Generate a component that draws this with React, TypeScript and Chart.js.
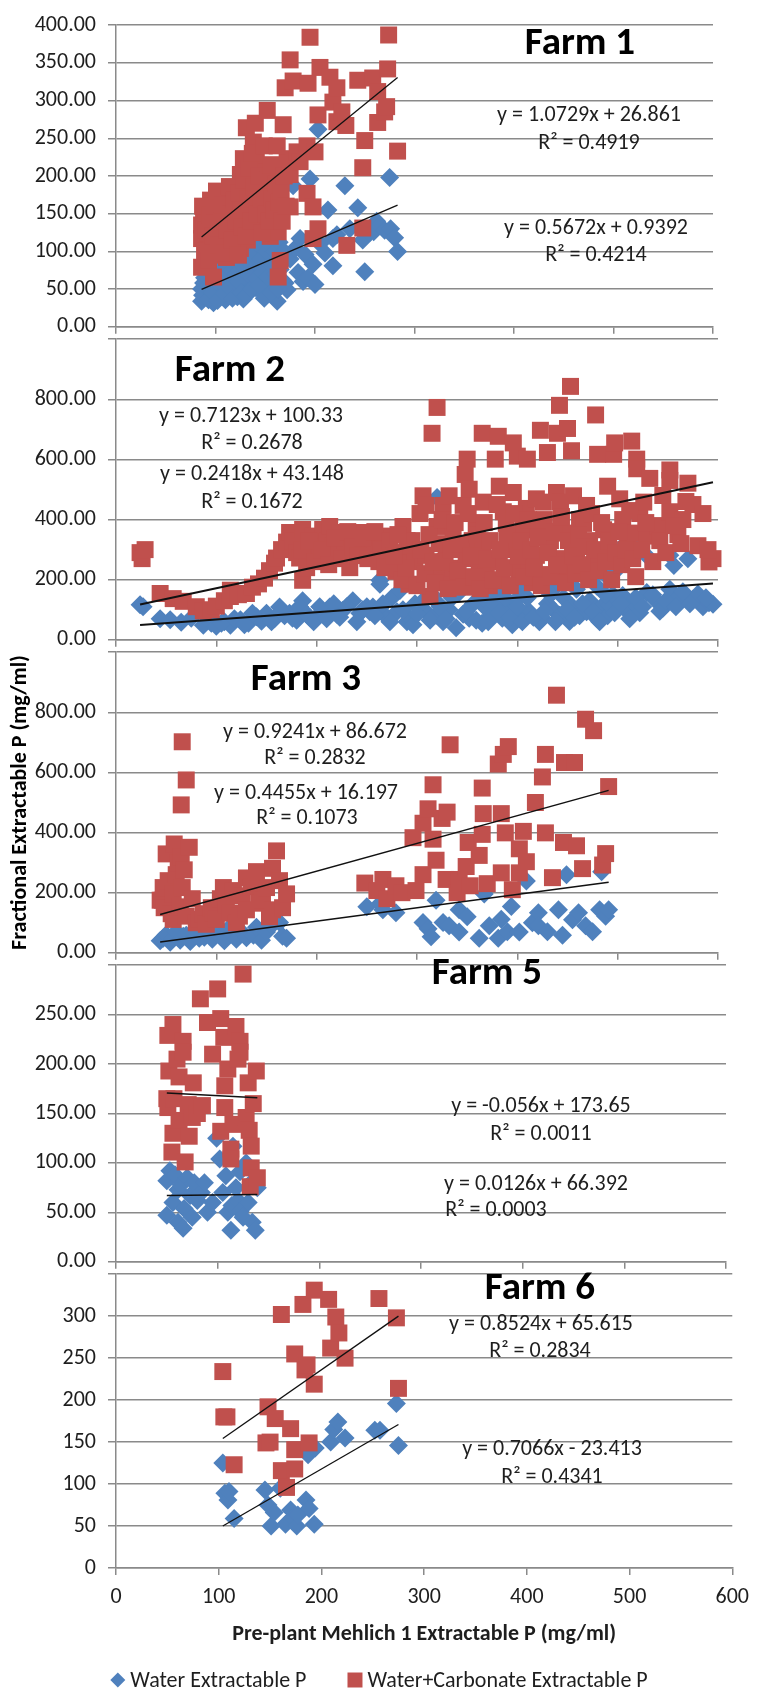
import { useEffect, useRef } from 'react';
import { Chart, registerables } from 'chart.js';

Chart.register(...registerables);

type Pt = [number, number];

const FONT = 'Carlito, Lato, "DejaVu Sans", sans-serif';
const BLUE = '#4F81BD';
const RED = '#C0504D';
const GRID = '#8A8A8A';
const INK = '#1E1E1E';
const PAGE_W = 758;
const PAGE_H = 1692;

const X_TITLE = 'Pre-plant Mehlich 1 Extractable P (mg/ml)';
const Y_TITLE = 'Fractional Extractable P (mg/ml)';
const WATER_LABEL = 'Water Extractable P';
const CARB_LABEL = 'Water+Carbonate Extractable P';

// shared x axis: Mehlich 1 P, 0..600 by 100
const xRange = [0, 600, 100];

// ---- Farm 1 ----
const farm1Water: Pt[] = [
  [86, 34], [86, 50], [88, 58], [90, 40], [92, 45], [95, 38], [98, 32], [100, 42], [103, 52], [105, 40],
  [108, 48], [110, 36], [112, 58], [115, 44], [118, 62], [120, 50], [122, 40], [125, 55], [128, 37], [130, 66],
  [133, 48], [135, 58], [138, 72], [140, 52], [143, 80], [145, 47], [148, 60], [150, 70], [152, 126], [155, 55],
  [158, 85], [160, 64], [162, 34], [165, 76], [168, 95], [170, 58], [172, 49], [175, 90], [178, 187], [180, 104],
  [183, 72], [185, 117], [188, 60], [190, 96], [193, 65], [195, 196], [198, 83], [200, 56], [203, 262], [205, 110],
  [210, 98], [213, 155], [218, 117], [218, 81], [222, 122], [230, 187], [235, 130], [243, 158], [248, 115], [250, 73],
  [255, 125], [259, 126], [262, 140], [265, 134], [270, 128], [275, 198], [276, 130], [280, 118], [283, 100],
  [87, 42], [89, 65], [91, 52], [93, 36], [94, 70], [96, 55], [97, 45], [99, 78], [101, 60], [102, 35],
  [104, 72], [106, 58], [107, 85], [109, 44], [111, 66], [113, 90], [114, 52], [116, 75], [117, 38], [119, 88],
  [121, 70], [123, 60], [124, 95], [126, 45], [127, 82], [129, 100], [131, 42], [132, 88], [134, 68], [136, 105],
  [137, 50], [139, 95], [141, 64], [142, 110], [144, 55], [146, 90], [147, 72], [149, 38], [151, 100], [153, 66],
  [154, 110], [156, 45], [157, 80], [159, 100], [161, 70], [163, 50], [164, 112], [166, 86], [167, 62], [169, 100],
];
const farm1Carbonate: Pt[] = [
  [86, 117], [86, 79], [86, 135], [88, 143], [89, 100], [90, 155], [92, 125], [95, 168], [96, 110], [98, 66],
  [100, 140], [102, 95], [105, 177], [105, 130], [108, 150], [110, 115], [111, 92], [113, 165], [115, 135], [118, 185],
  [118, 105], [120, 150], [122, 125], [125, 202], [125, 104], [128, 223], [128, 170], [130, 145], [131, 264], [132, 115],
  [135, 190], [138, 245], [140, 270], [140, 160], [141, 223], [143, 130], [145, 147], [148, 205], [150, 180], [152, 287],
  [152, 168], [155, 120], [158, 185], [160, 140], [163, 126], [165, 211], [165, 88], [163, 66], [168, 268], [170, 317],
  [172, 223], [175, 354], [175, 202], [175, 159], [178, 326], [182, 232], [185, 219], [192, 240], [192, 177], [193, 323],
  [195, 384], [198, 159], [198, 117], [200, 232], [203, 281], [203, 130], [205, 344], [215, 331], [218, 298], [222, 317],
  [222, 272], [227, 285], [231, 267], [232, 108], [243, 327], [248, 211], [248, 131], [250, 247], [258, 330], [263, 312],
  [263, 271], [270, 285], [272, 292], [273, 342], [274, 387], [283, 233],
  [87, 160], [90, 128], [93, 88], [94, 148], [97, 120], [99, 160], [101, 180], [103, 108], [106, 140], [107, 162],
  [109, 98], [112, 128], [114, 186], [116, 150], [117, 115], [119, 168], [121, 140], [123, 95], [124, 178], [126, 155],
  [127, 132], [129, 195], [131, 120], [133, 170], [134, 210], [136, 140], [137, 230], [139, 185], [142, 150], [144, 200],
  [146, 170], [147, 125], [149, 240], [151, 150], [153, 195], [154, 140], [156, 215], [157, 170], [159, 155], [161, 190],
  [162, 240], [164, 165], [166, 180], [167, 140], [169, 200], [171, 160],
];
const farm1WaterFit = [0.5672, 0.9392, 0.4214];
const farm1CarbonateFit = [1.0729, 26.861, 0.4919];

// ---- Farm 2 ----
const farm2Water: Pt[] = [
  [24, 117], [27, 110], [44, 70], [54, 67], [65, 58], [75, 72], [87, 48], [95, 55], [100, 45], [108, 60],
  [114, 48], [124, 67], [132, 55], [140, 77], [145, 62], [150, 88], [158, 70], [163, 109], [168, 80], [173, 88],
  [180, 65], [186, 98], [186, 130], [193, 75], [200, 77], [206, 95], [213, 109], [220, 85], [226, 98], [236, 130],
  [243, 88], [250, 110], [253, 93], [256, 109], [263, 198], [263, 185], [263, 104], [270, 75], [275, 140], [280, 93],
  [283, 164], [290, 60], [293, 72], [298, 120], [303, 113], [310, 90], [315, 150], [319, 82], [320, 125], [320, 473],
  [326, 60], [332, 100], [339, 40], [342, 157], [346, 85], [352, 72], [356, 120], [362, 168], [365, 55], [369, 104],
  [374, 80], [379, 157], [385, 72], [390, 110], [395, 50], [398, 130], [402, 168], [408, 85], [412, 93], [419, 189],
  [422, 60], [425, 72], [430, 120], [436, 100], [439, 179], [442, 82], [446, 140], [452, 61], [455, 110], [459, 168],
  [462, 80], [469, 93], [472, 130], [479, 72], [479, 179], [484, 110], [486, 221], [490, 80], [492, 115], [495, 150],
  [499, 232], [502, 302], [505, 147], [508, 100], [515, 125], [519, 302], [522, 90], [529, 157], [532, 270], [538, 130],
  [545, 105], [552, 168], [552, 281], [556, 247], [560, 140], [570, 270], [575, 135], [580, 152], [585, 110], [591, 123],
  [595, 118],
  [105, 55], [118, 70], [128, 50], [136, 88], [155, 60], [165, 95], [176, 72], [183, 110], [190, 85], [197, 60],
  [203, 110], [210, 70], [217, 120], [223, 75], [230, 110], [240, 60], [246, 100], [258, 80], [266, 120], [273, 60],
  [286, 100], [296, 50], [300, 85], [306, 130], [313, 65], [323, 110], [329, 70], [335, 140], [349, 95], [359, 65],
  [366, 140], [371, 60], [377, 120], [382, 90], [388, 140], [393, 75], [400, 110], [405, 60], [410, 140], [416, 75],
  [427, 95], [433, 150], [438, 60], [449, 100], [457, 75], [465, 120], [476, 95], [482, 60], [488, 150], [497, 90],
  [503, 120], [512, 70], [518, 140], [525, 110], [535, 150], [542, 95], [548, 130], [558, 110], [565, 160], [572, 120],
  [588, 140],
];
const farm2Carbonate: Pt[] = [
  [24, 290], [26, 270], [29, 300], [44, 154], [57, 137], [67, 128], [80, 110], [87, 96], [95, 100], [100, 112],
  [108, 130], [114, 144], [114, 165], [122, 150], [130, 154], [136, 175], [142, 186], [148, 205], [153, 230], [158, 255],
  [160, 272], [165, 300], [170, 325], [173, 357], [176, 330], [180, 290], [183, 272], [186, 198], [186, 367], [190, 240],
  [196, 345], [200, 310], [203, 281], [206, 367], [210, 330], [213, 377], [216, 313], [220, 290], [223, 357], [228, 330],
  [233, 240], [238, 300], [243, 357], [248, 320], [253, 323], [256, 345], [256, 302], [262, 260], [266, 345], [270, 300],
  [275, 250], [279, 228], [283, 290], [286, 377], [290, 330], [292, 185], [293, 313], [298, 260], [303, 420], [306, 479],
  [309, 281], [309, 447], [313, 144], [315, 687], [320, 773], [320, 377], [323, 230], [326, 447], [329, 302], [329, 196],
  [332, 479], [336, 355], [336, 238], [340, 200], [346, 447], [348, 550], [349, 270], [350, 601], [352, 501], [352, 185],
  [355, 330], [359, 377], [362, 240], [365, 687], [366, 458], [366, 313], [369, 217], [372, 180], [378, 601], [381, 677],
  [382, 511], [382, 259], [385, 196], [386, 426], [389, 387], [392, 300], [396, 655], [396, 490], [399, 302], [400, 611],
  [402, 228], [406, 366], [409, 437], [410, 601], [412, 260], [415, 190], [419, 469], [419, 281], [422, 366], [423, 697],
  [425, 217], [426, 458], [430, 623], [433, 330], [439, 490], [439, 270], [440, 687], [442, 780], [443, 458], [446, 355],
  [449, 228], [450, 703], [452, 260], [453, 843], [454, 629], [456, 479], [459, 302], [462, 400], [466, 387], [469, 447],
  [469, 238], [472, 330], [478, 748], [479, 270], [480, 617], [486, 366], [490, 511], [492, 281], [496, 617], [497, 655],
  [502, 469], [505, 400], [510, 320], [514, 661], [516, 355], [519, 601], [519, 569], [522, 420], [526, 458], [529, 345],
  [532, 537], [540, 380], [545, 480], [552, 565], [552, 530], [552, 426], [560, 350], [565, 400], [570, 521], [575, 450],
  [580, 313], [591, 259], [595, 270],
  [285, 200], [289, 240], [295, 330], [300, 180], [304, 300], [308, 220], [312, 350], [316, 260], [318, 190], [322, 320],
  [325, 400], [328, 260], [331, 170], [334, 300], [338, 390], [341, 230], [344, 320], [347, 175], [351, 420], [354, 280],
  [357, 210], [360, 350], [363, 170], [367, 390], [370, 270], [373, 330], [376, 200], [380, 450], [383, 300], [387, 240],
  [390, 350], [393, 180], [397, 420], [401, 280], [404, 330], [407, 210], [411, 400], [414, 300], [417, 240], [421, 340],
  [424, 180], [427, 400], [431, 290], [434, 210], [437, 360], [441, 250], [444, 410], [448, 190], [451, 330], [455, 280],
  [458, 220], [461, 350], [464, 250], [467, 310], [471, 200], [474, 420], [477, 300], [481, 230], [484, 390], [488, 260],
  [491, 330], [494, 200], [498, 290], [501, 360], [504, 250], [508, 300], [512, 430], [515, 270], [518, 210], [524, 300],
  [528, 390], [535, 260], [542, 330], [548, 290], [556, 380], [563, 320], [568, 460], [585, 420], [590, 300],
  [185, 300], [192, 330], [198, 260], [205, 300], [212, 250], [218, 340], [225, 270], [231, 360], [236, 310], [241, 280],
  [246, 340], [251, 270], [258, 360], [264, 300], [268, 240], [273, 330], [277, 280], [281, 350],
];
const farm2WaterFit = [0.2418, 43.148, 0.1672];
const farm2CarbonateFit = [0.7123, 100.33, 0.2678];

// ---- Farm 3 ----
const farm3Water: Pt[] = [
  [44, 40], [47, 48], [50, 60], [54, 35], [57, 48], [60, 70], [64, 42], [67, 55], [70, 58], [74, 38],
  [78, 65], [83, 48], [88, 52], [92, 75], [96, 45], [100, 69], [104, 55], [108, 40], [112, 80], [117, 58],
  [120, 45], [125, 70], [130, 50], [137, 58], [140, 85], [145, 42], [150, 69], [155, 90], [160, 133], [163, 101],
  [166, 55], [170, 48], [250, 153], [263, 163], [266, 143], [279, 133], [306, 101], [311, 80], [314, 53], [319, 175],
  [326, 101], [332, 90], [342, 143], [342, 69], [350, 120], [362, 48], [367, 196], [372, 90], [381, 48], [384, 112],
  [390, 70], [394, 154], [402, 69], [409, 239], [415, 100], [421, 133], [421, 90], [430, 70], [441, 143], [445, 58],
  [449, 260], [455, 110], [461, 133], [468, 90], [475, 70], [482, 143], [484, 270], [488, 122], [491, 143],
];
const farm3Carbonate: Pt[] = [
  [44, 175], [46, 175], [47, 217], [48, 150], [50, 329], [52, 240], [55, 130], [57, 196], [57, 111], [58, 362],
  [60, 260], [62, 300], [64, 153], [65, 318], [65, 492], [66, 702], [66, 217], [68, 276], [70, 575], [70, 122],
  [73, 351], [76, 180], [80, 100], [83, 111], [87, 130], [90, 95], [95, 150], [97, 132], [100, 111], [104, 180],
  [107, 217], [110, 160], [114, 132], [117, 207], [120, 100], [123, 122], [126, 190], [130, 249], [130, 143], [135, 220],
  [140, 270], [143, 165], [146, 175], [150, 217], [153, 120], [156, 281], [156, 143], [160, 339], [163, 240], [166, 150],
  [170, 196], [248, 232], [260, 207], [266, 244], [270, 180], [279, 223], [285, 200], [296, 383], [299, 207], [306, 431],
  [306, 260], [311, 479], [316, 559], [316, 378], [319, 308], [325, 447], [329, 244], [330, 468], [333, 692], [340, 200],
  [342, 244], [349, 287], [351, 367], [353, 223], [362, 324], [365, 548], [365, 394], [366, 463], [370, 230], [381, 628],
  [384, 463], [384, 266], [386, 660], [388, 399], [391, 686], [395, 210], [402, 346], [402, 266], [406, 404], [409, 303],
  [418, 500], [425, 585], [428, 660], [428, 399], [435, 250], [439, 857], [446, 367], [447, 633], [457, 633], [459, 356],
  [465, 280], [468, 777], [476, 739], [485, 292], [488, 330], [491, 553],
];
const farm3WaterFit = [0.4455, 16.197, 0.1073];
const farm3CarbonateFit = [0.9241, 86.672, 0.2832];

// ---- Farm 5 ----
const farm5Water: Pt[] = [
  [50, 82], [50, 47], [53, 92], [56, 60], [58, 88], [61, 73], [61, 40], [64, 78], [66, 34], [67, 54],
  [70, 85], [73, 67], [75, 45], [77, 80], [80, 62], [84, 70], [87, 80], [90, 50], [95, 60], [99, 125],
  [102, 104], [105, 70], [108, 87], [110, 50], [113, 32], [114, 57], [115, 117], [118, 75], [120, 62], [122, 91],
  [122, 51], [125, 45], [128, 100], [130, 60], [133, 80], [134, 40], [137, 32], [139, 75],
];
const farm5Carbonate: Pt[] = [
  [50, 165], [51, 229], [51, 156], [52, 193], [55, 111], [56, 240], [56, 130], [57, 165], [60, 205], [62, 187],
  [62, 143], [66, 223], [66, 212], [68, 101], [71, 159], [72, 127], [75, 146], [76, 181], [80, 150], [83, 266],
  [85, 158], [90, 242], [95, 210], [100, 276], [103, 246], [103, 132], [106, 227], [107, 178], [107, 156], [110, 195],
  [113, 114], [113, 104], [115, 139], [118, 238], [120, 205], [122, 223], [122, 212], [125, 291], [128, 146], [130, 181],
  [131, 133], [132, 76], [133, 117], [133, 95], [135, 160], [138, 193], [139, 85],
];
const farm5WaterFit = [0.0126, 66.392, 0.0003];
const farm5CarbonateFit = [-0.056, 173.65, 0.0011];

// ---- Farm 6 ----
const farm6Water: Pt[] = [
  [104, 125], [106, 89], [109, 81], [110, 91], [115, 59], [145, 93], [148, 75], [151, 50], [154, 66], [160, 95],
  [165, 52], [170, 69], [172, 60], [176, 50], [177, 63], [185, 81], [187, 135], [188, 71], [193, 52], [194, 143],
  [209, 150], [212, 165], [216, 174], [223, 155], [252, 164], [257, 164], [273, 196], [275, 146],
];
const farm6Carbonate: Pt[] = [
  [104, 234], [105, 180], [108, 180], [115, 123], [146, 149], [148, 192], [150, 150], [155, 178], [161, 302], [161, 116],
  [166, 96], [170, 166], [174, 255], [174, 141], [174, 118], [182, 314], [184, 236], [186, 242], [188, 149], [193, 331],
  [193, 219], [207, 320], [209, 262], [214, 299], [217, 280], [223, 250], [256, 321], [273, 298], [275, 214],
];
const farm6WaterFit = [0.7066, -23.413, 0.4341];
const farm6CarbonateFit = [0.8524, 65.615, 0.2834];

type Panel = {
  title: string;
  water: Pt[];
  carbonate: Pt[];
  waterFit: number[];
  carbonateFit: number[];
  top: number;
  bottom: number;
  right: number;
  yMax: number;
  yStep: number;
  decimals: number;
  hideTop: boolean;
  trendWidth: number;
  showYTitle: boolean;
  titleAt: Pt;
  carbEqAt: Pt;
  carbR2At: Pt;
  waterEqAt: Pt;
  waterR2At: Pt;
};

const PANELS: Panel[] = [
  {
    title: 'Farm 1', water: farm1Water, carbonate: farm1Carbonate, waterFit: farm1WaterFit, carbonateFit: farm1CarbonateFit,
    top: 18, bottom: 332, right: 713, yMax: 400, yStep: 50, decimals: 2, hideTop: false, trendWidth: 1.3, showYTitle: false,
    titleAt: [580, 44], carbEqAt: [589, 115], carbR2At: [589, 143], waterEqAt: [596, 228], waterR2At: [596, 255],
  },
  {
    title: 'Farm 2', water: farm2Water, carbonate: farm2Carbonate, waterFit: farm2WaterFit, carbonateFit: farm2CarbonateFit,
    top: 332, bottom: 645, right: 718, yMax: 1000, yStep: 200, decimals: 2, hideTop: true, trendWidth: 2, showYTitle: false,
    titleAt: [230, 371], carbEqAt: [251, 416], carbR2At: [252, 443], waterEqAt: [252, 474], waterR2At: [252, 502],
  },
  {
    title: 'Farm 3', water: farm3Water, carbonate: farm3Carbonate, waterFit: farm3WaterFit, carbonateFit: farm3CarbonateFit,
    top: 645, bottom: 958, right: 718, yMax: 1000, yStep: 200, decimals: 2, hideTop: true, trendWidth: 1.5, showYTitle: true,
    titleAt: [306, 680], carbEqAt: [315, 732], carbR2At: [315, 758], waterEqAt: [306, 793], waterR2At: [307, 818],
  },
  {
    title: 'Farm 5', water: farm5Water, carbonate: farm5Carbonate, waterFit: farm5WaterFit, carbonateFit: farm5CarbonateFit,
    top: 958, bottom: 1267, right: 726, yMax: 300, yStep: 50, decimals: 2, hideTop: true, trendWidth: 1.5, showYTitle: false,
    titleAt: [487, 974], carbEqAt: [541, 1106], carbR2At: [541, 1134], waterEqAt: [536, 1184], waterR2At: [496, 1210],
  },
  {
    title: 'Farm 6', water: farm6Water, carbonate: farm6Carbonate, waterFit: farm6WaterFit, carbonateFit: farm6CarbonateFit,
    top: 1267, bottom: 1568, right: 740, yMax: 350, yStep: 50, decimals: 0, hideTop: true, trendWidth: 1.3, showYTitle: false,
    titleAt: [540, 1289], carbEqAt: [541, 1324], carbR2At: [540, 1351], waterEqAt: [552, 1449], waterR2At: [552, 1477],
  },
];

const PAD_TOP = 18;
const PANEL_FOOT = 20;
const LEGEND_Y = 1680;
const LEGEND_CX = 379;
const TEXT_SIZE = 22;

const eqText = (fit: number[]) => `y = ${fit[0]}x ${fit[1] < 0 ? '-' : '+'} ${Math.abs(fit[1])}`;
const r2Text = (fit: number[]) => `R² = ${fit[2]}`;

function trendPoints(water: Pt[], carbonate: Pt[], fit: number[]) {
  const xs = [...water, ...carbonate].map((p) => p[0]);
  const x0 = Math.min(...xs);
  const x1 = Math.max(...xs);
  return [
    { x: x0, y: fit[0] * x0 + fit[1] },
    { x: x1, y: fit[0] * x1 + fit[1] },
  ];
}

function FarmPanel({ panel, last }: { panel: Panel; last: boolean }) {
  const ref = useRef<HTMLCanvasElement>(null);
  const foot = last ? PAGE_H - panel.bottom : PANEL_FOOT;
  const canvasTop = panel.top - PAD_TOP;
  const height = panel.bottom - panel.top + PAD_TOP + foot;

  useEffect(() => {
    const canvas = ref.current;
    if (!canvas) return;

    // farm name, trend-line equations and R² values
    const notes = {
      id: 'farmNotes',
      afterDraw(chart: Chart) {
        const ctx = chart.ctx;
        ctx.save();
        ctx.textAlign = 'center';
        ctx.textBaseline = 'middle';
        ctx.fillStyle = '#000';
        ctx.font = `bold 39px ${FONT}`;
        ctx.fillText(panel.title, panel.titleAt[0], panel.titleAt[1] - canvasTop);
        ctx.fillStyle = INK;
        ctx.font = `${TEXT_SIZE}px ${FONT}`;
        const lines: [string, Pt][] = [
          [eqText(panel.carbonateFit), panel.carbEqAt],
          [r2Text(panel.carbonateFit), panel.carbR2At],
          [eqText(panel.waterFit), panel.waterEqAt],
          [r2Text(panel.waterFit), panel.waterR2At],
        ];
        for (const [t, at] of lines) ctx.fillText(t, at[0], at[1] - canvasTop);
        ctx.restore();
      },
    };

    // series key under the bottom panel
    const seriesKey = {
      id: 'seriesKey',
      afterDraw(chart: Chart) {
        if (!last) return;
        const ctx = chart.ctx;
        const y = LEGEND_Y - canvasTop;
        ctx.save();
        ctx.font = `${TEXT_SIZE}px ${FONT}`;
        ctx.textBaseline = 'middle';
        ctx.textAlign = 'left';
        const items = chart.data.datasets
          .filter((d: any) => d.label)
          .map((d: any) => ({ label: d.label as string, color: d.backgroundColor as string, style: d.pointStyle as string }));
        const marker = 15;
        const gapText = 5;
        const gapItem = 41;
        const widths = items.map((it) => ctx.measureText(it.label).width);
        const total = widths.reduce((a, w) => a + marker + gapText + w, 0) + gapItem * (items.length - 1);
        let x = LEGEND_CX - total / 2;
        items.forEach((it, i) => {
          ctx.fillStyle = it.color;
          ctx.beginPath();
          if (it.style === 'rectRot') {
            const r = marker / 2;
            ctx.moveTo(x, y);
            ctx.lineTo(x + r, y - r);
            ctx.lineTo(x + 2 * r, y);
            ctx.lineTo(x + r, y + r);
            ctx.closePath();
          } else {
            ctx.rect(x, y - marker / 2, marker, marker);
          }
          ctx.fill();
          x += marker + gapText;
          ctx.fillStyle = INK;
          ctx.fillText(it.label, x, y + 1);
          x += widths[i] + gapItem;
        });
        ctx.restore();
      },
    };

    const toXY = (pts: Pt[]) => pts.map(([x, y]) => ({ x, y }));

    const chart = new Chart(canvas, {
      type: 'scatter',
      data: {
        datasets: [
          {
            label: WATER_LABEL,
            data: toXY(panel.water),
            pointStyle: 'rectRot',
            pointRadius: 9.5,
            backgroundColor: BLUE,
            borderColor: BLUE,
            borderWidth: 0,
            order: 3,
            clip: false,
          } as any,
          {
            label: CARB_LABEL,
            data: toXY(panel.carbonate),
            pointStyle: 'rect',
            pointRadius: 12,
            backgroundColor: RED,
            borderColor: RED,
            borderWidth: 0,
            order: 2,
            clip: false,
          } as any,
          {
            data: trendPoints(panel.water, panel.carbonate, panel.carbonateFit),
            showLine: true,
            pointRadius: 0,
            borderColor: '#111',
            borderWidth: panel.trendWidth,
            order: 1,
            clip: false,
          } as any,
          {
            data: trendPoints(panel.water, panel.carbonate, panel.waterFit),
            showLine: true,
            pointRadius: 0,
            borderColor: '#111',
            borderWidth: panel.trendWidth,
            order: 0,
            clip: false,
          } as any,
        ],
      },
      options: {
        responsive: false,
        animation: false,
        devicePixelRatio: 1,
        events: [],
        layout: { padding: { top: PAD_TOP, right: PAGE_W - panel.right, left: 0, bottom: 0 } },
        plugins: { legend: { display: false }, tooltip: { enabled: false } },
        scales: {
          x: {
            type: 'linear',
            min: xRange[0],
            max: xRange[1],
            afterFit: (s: any) => {
              s.height = foot;
            },
            grid: { drawOnChartArea: false, drawTicks: true, tickLength: 7, color: GRID, lineWidth: 1.5 },
            border: { display: true, color: GRID, width: 1.5 },
            ticks: {
              display: last,
              stepSize: xRange[2],
              autoSkip: false,
              maxRotation: 0,
              padding: 9,
              color: INK,
              font: { family: FONT, size: TEXT_SIZE },
            },
            title: {
              display: last,
              text: X_TITLE,
              color: INK,
              font: { family: FONT, size: TEXT_SIZE, weight: 'bold' },
              padding: { top: 0, bottom: 44 },
            },
          },
          y: {
            type: 'linear',
            min: 0,
            max: panel.yMax,
            afterFit: (s: any) => {
              s.width = 116;
            },
            grid: { color: GRID, lineWidth: 1.5, drawTicks: true, tickLength: 8 },
            border: { display: true, color: GRID, width: 1.5 },
            ticks: {
              stepSize: panel.yStep,
              autoSkip: false,
              padding: 12,
              color: INK,
              font: { family: FONT, size: TEXT_SIZE },
              callback: (v: any) => {
                const n = Number(v);
                if (panel.hideTop && n === panel.yMax) return '';
                return n.toFixed(panel.decimals);
              },
            },
            title: {
              display: panel.showYTitle,
              text: Y_TITLE,
              color: '#000',
              font: { family: FONT, size: TEXT_SIZE, weight: 'bold' },
              padding: { top: 7, bottom: 0 },
            },
          },
        },
      } as any,
      plugins: [notes, seriesKey],
    });

    return () => chart.destroy();
  }, [panel, last, canvasTop, foot]);

  return (
    <canvas
      ref={ref}
      width={PAGE_W}
      height={height}
      style={{ position: 'absolute', left: 0, top: canvasTop, width: PAGE_W, height }}
    />
  );
}

export default function App() {
  return (
    <div style={{ position: 'absolute', left: 0, top: 0, width: PAGE_W, height: PAGE_H, background: '#fff', overflow: 'hidden' }}>
      {PANELS.map((p, i) => (
        <FarmPanel key={p.title} panel={p} last={i === PANELS.length - 1} />
      ))}
    </div>
  );
}
